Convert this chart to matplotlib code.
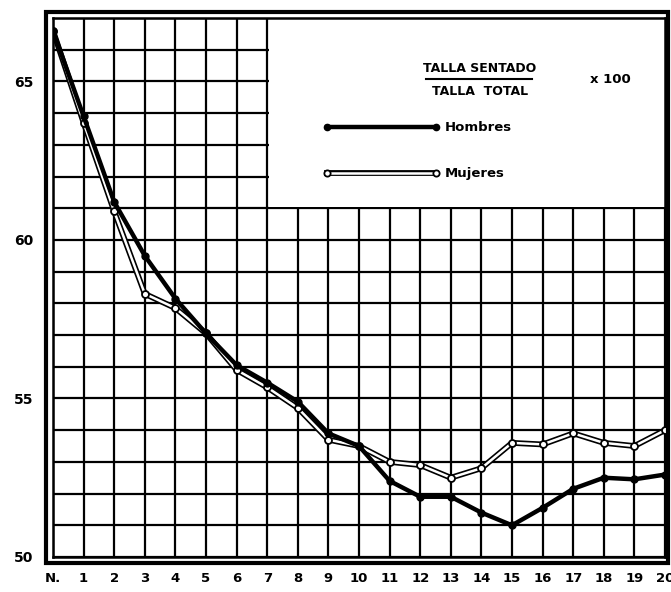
import matplotlib
matplotlib.use("Agg")
import matplotlib.pyplot as plt
from matplotlib.patches import Rectangle

# edades: N. (nacimiento) y 1..20 anos
edades = list(range(21))
etiquetas_x = ["N."] + [str(i) for i in range(1, 21)]

# indice talla sentado / talla total x 100
hombres = [66.6, 63.9, 61.2, 59.5, 58.15, 57.05, 56.05, 55.5, 54.9, 53.9, 53.5,
           52.4, 51.9, 51.9, 51.4, 51.0, 51.55, 52.15, 52.5, 52.45, 52.6]
mujeres = [66.6, 63.7, 60.9, 58.3, 57.85, 57.05, 55.9, 55.35, 54.7, 53.7, 53.5,
           53.0, 52.9, 52.5, 52.8, 53.6, 53.55, 53.9, 53.6, 53.5, 54.0]

y_ticks = [50, 55, 60, 65]

W, H = 671, 592
fig = plt.figure(figsize=(W / 100, H / 100), dpi=100)
ax = fig.add_axes([53 / W, (H - 557) / H, (665 - 53) / W, (557 - 18) / H])

ax.set_xlim(0, 20)
ax.set_ylim(50, 67)

# cuadricula
for x in edades:
    ax.axvline(x, color="black", lw=1.6, zorder=1)
for y in range(50, 68):
    ax.axhline(y, color="black", lw=1.6, zorder=1)

# recuadro blanco de la leyenda
ax.add_patch(Rectangle((7.06, 61.05), 13, 6, facecolor="white", edgecolor="none", zorder=2))

for s in ax.spines.values():
    s.set_linewidth(1.8)

# mujeres: doble trazo (linea hueca)
ax.plot(edades, mujeres, color="black", lw=4.2, zorder=3, solid_capstyle="round")
ax.plot(edades, mujeres, color="white", lw=1.8, zorder=4)
ax.plot(edades, mujeres, ls="none", marker="o", ms=5, mfc="white", mec="black", mew=1.3, zorder=5)

# hombres: trazo lleno
ax.plot(edades, hombres, color="black", lw=3.2, zorder=6, marker="o", ms=5)

ax.set_xticks(edades)
ax.set_xticklabels(etiquetas_x, fontsize=9.5, fontweight="bold")
ax.set_yticks(y_ticks)
ax.set_yticklabels([str(v) for v in y_ticks], fontsize=10, fontweight="bold")
ax.tick_params(axis="x", length=0, pad=11)
ax.tick_params(axis="y", length=0, pad=14)

# leyenda dibujada a mano
ax.text(13.95, 65.2, "TALLA SENTADO", ha="center", va="bottom", fontsize=9, fontweight="bold", zorder=7)
ax.plot([12.2, 15.65], [65.08, 65.08], color="black", lw=1.5, zorder=7)
ax.text(13.95, 64.9, "TALLA  TOTAL", ha="center", va="top", fontsize=9, fontweight="bold", zorder=7)
ax.text(18.2, 65.05, "x 100", ha="center", va="center", fontsize=9.5, fontweight="bold", zorder=7)

ax.plot([8.95, 12.5], [63.55, 63.55], color="black", lw=3.2, marker="o", ms=4.5, zorder=7)
ax.text(12.8, 63.55, "Hombres", ha="left", va="center", fontsize=9.5, fontweight="bold", zorder=7)

ax.plot([8.95, 12.5], [62.1, 62.1], color="black", lw=4.2, zorder=7)
ax.plot([8.95, 12.5], [62.1, 62.1], color="white", lw=1.8, zorder=8)
ax.plot([8.95, 12.5], [62.1, 62.1], ls="none", marker="o", ms=4.5, mfc="white", mec="black", mew=1.3, zorder=9)
ax.text(12.8, 62.1, "Mujeres", ha="left", va="center", fontsize=9.5, fontweight="bold", zorder=7)

# marco exterior
fig.add_artist(Rectangle((46 / W, (H - 563) / H), (668 - 46) / W, (563 - 12) / H,
                         transform=fig.transFigure, fill=False, edgecolor="black", lw=3))

fig.savefig("out.png", dpi=100)
